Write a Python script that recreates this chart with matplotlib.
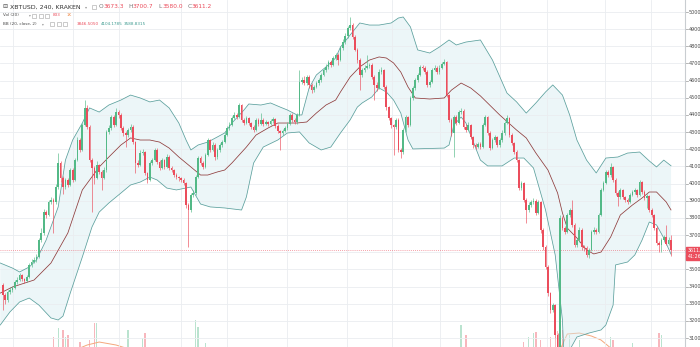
import numpy as np
import matplotlib
matplotlib.use("Agg")
import matplotlib.pyplot as plt
from matplotlib.transforms import blended_transform_factory
from matplotlib.patches import Rectangle

# XBTUSD 240 min candles (Kraken)
first_open = 3410
close = [
    3351, 3322, 3370, 3380, 3392, 3427, 3438, 3467, 3444, 3432,
    3456, 3526, 3543, 3555, 3572, 3671, 3712, 3834, 3817, 3893,
    3904, 3890, 3980, 4120, 4033, 3980, 4021, 3992, 4079, 4021,
    4137, 4254, 4196, 4342, 4441, 4330, 4137, 4091, 4033, 4108,
    4068, 4033, 4079, 4301, 4324,
    4388, 4342, 4417, 4400, 4324, 4295, 4283, 4312, 4330, 4242,
    4120, 4110, 4178, 4184, 4062, 4021, 4120, 4137, 4196, 4126,
    4091, 4137, 4097, 4155, 4091, 4079, 4050, 4038, 4030, 4021,
    4003, 3875, 3846, 3934, 3945, 4038, 4149, 4120, 4097, 4167,
    4254, 4196, 4225, 4155,
    4196, 4225, 4242, 4283, 4324, 4342, 4382, 4400, 4388, 4458,
    4371, 4353, 4382, 4353, 4330, 4312, 4371, 4347, 4371, 4347,
    4359, 4347, 4365, 4376, 4336, 4307, 4295, 4307, 4324, 4347,
    4400, 4371, 4359, 4400, 4592, 4604, 4586, 4621, 4575, 4545,
    4563, 4586, 4604, 4633,
    4662, 4680, 4709, 4691, 4732, 4749, 4720, 4790, 4825, 4860,
    4907, 4924, 4854, 4779, 4720, 4633, 4662, 4674, 4685, 4690,
    4621, 4575, 4557, 4650, 4662, 4563, 4446, 4382, 4342, 4330,
    4371, 4196, 4184, 4312, 4388, 4342, 4499, 4557, 4604, 4633,
    4680, 4674, 4650, 4575, 4592, 4662, 4674,
    4650, 4674, 4697, 4709, 4516, 4371, 4295, 4388, 4353, 4417,
    4425, 4330, 4312, 4342, 4272, 4225, 4213, 4231, 4213, 4342,
    4388, 4295, 4207, 4254, 4272, 4225, 4254, 4295, 4353, 4382,
    4283, 4237, 4184, 4137, 3974, 4003, 3904, 3846, 3875, 3893,
    3900, 3829, 3893, 3730, 3630, 3514, 3362,
    3263, 3292, 3118, 3020, 3799, 3741, 3718, 3817, 3846, 3759,
    3642, 3671, 3730, 3630, 3625, 3584, 3613, 3718, 3730, 3718,
    3817, 3963, 4003, 4068, 4050, 4097, 4021, 3945, 3922, 3963,
    3922, 3904, 3893, 3934, 3951, 3960, 3934, 4009, 3951, 3916,
    3925, 3846, 3817, 3741, 3654, 3642, 3671, 3689, 3650, 3673.3,
    3611.2,
]
high = [
    3420, 3360, 3380, 3395, 3405, 3440, 3455, 3480, 3475, 3450,
    3465, 3540, 3560, 3570, 3590, 3685, 3740, 3850, 3845, 3905,
    3920, 3915, 3995, 4178, 4130, 4045, 4035, 4030, 4090, 4090,
    4150, 4270, 4265, 4355, 4487, 4460, 4340, 4150, 4100, 4130,
    4115, 4080, 4095, 4315, 4340,
    4400, 4400, 4440, 4430, 4410, 4335, 4305, 4325, 4345, 4340,
    4250, 4135, 4195, 4200, 4190, 4070, 4130, 4150, 4210, 4205,
    4135, 4150, 4145, 4170, 4165, 4100, 4085, 4060, 4045, 4040,
    4030, 4010, 3885, 3945, 3960, 4050, 4160, 4160, 4130, 4180,
    4265, 4260, 4240, 4235,
    4205, 4235, 4255, 4300, 4335, 4360, 4395, 4420, 4410, 4470,
    4465, 4385, 4395, 4390, 4360, 4340, 4385, 4380, 4410, 4380,
    4370, 4365, 4375, 4390, 4385, 4345, 4315, 4320, 4335, 4360,
    4410, 4410, 4380, 4410, 4662, 4620, 4625, 4635, 4630, 4585,
    4575, 4600, 4615, 4645,
    4675, 4695, 4720, 4720, 4745, 4760, 4760, 4800, 4840, 4875,
    4920, 4971, 4935, 4865, 4790, 4730, 4675, 4690, 4749, 4705,
    4700, 4630, 4590, 4665, 4680, 4670, 4575, 4455, 4390, 4350,
    4385, 4380, 4205, 4325, 4400, 4395, 4510, 4570, 4615, 4645,
    4690, 4690, 4685, 4660, 4605, 4675, 4690,
    4685, 4690, 4710, 4725, 4715, 4525, 4380, 4400, 4400, 4430,
    4440, 4435, 4345, 4360, 4350, 4280, 4235, 4245, 4240, 4355,
    4400, 4395, 4305, 4265, 4285, 4280, 4265, 4310, 4365, 4400,
    4390, 4295, 4245, 4195, 4145, 4015, 4010, 3915, 3890, 3905,
    3915, 3910, 3905, 3900, 3740, 3640, 3525,
    3370, 3305, 3300, 3130, 3815, 3810, 3755, 3830, 3860, 3904,
    3770, 3685, 3745, 3740, 3645, 3635, 3625, 3730, 3745, 3740,
    3830, 3975, 4015, 4080, 4080, 4120, 4105, 4030, 3955, 3975,
    3970, 3930, 3915, 3945, 3965, 3975, 3970, 4020, 4015, 3960,
    3940, 3935, 3860, 3825, 3750, 3665, 3685, 3700, 3760, 3690,
    3700.7,
]
low = [
    3263, 3300, 3310, 3355, 3370, 3385, 3415, 3430, 3435, 3420,
    3425, 3450, 3515, 3535, 3545, 3565, 3660, 3700, 3800, 3810,
    3880, 3712, 3880, 3970, 4010, 3940, 3970, 3980, 3985, 4010,
    4015, 4130, 4185, 4190, 4335, 4320, 4125, 3834, 4000, 4025,
    4055, 3963, 4025, 4070, 4290,
    4315, 4330, 4335, 4385, 4310, 4280, 4213, 4270, 4300, 4230,
    4062, 4095, 4100, 4165, 4050, 4005, 4015, 4110, 4130, 4115,
    4080, 4085, 4085, 4090, 4080, 4065, 4040, 4025, 4015, 4010,
    3990, 3860, 3630, 3835, 3920, 3935, 4030, 4110, 4085, 4090,
    4160, 4185, 4190, 4140,
    4145, 4185, 4215, 4235, 4275, 4315, 4335, 4375, 4375, 4380,
    4360, 4340, 4345, 4340, 4320, 4300, 4305, 4335, 4340, 4335,
    4340, 4335, 4340, 4355, 4325, 4295, 4196, 4285, 4300, 4315,
    4340, 4360, 4345, 4350, 4395, 4580, 4575, 4575, 4560, 4530,
    4535, 4555, 4575, 4595,
    4625, 4650, 4670, 4680, 4685, 4720, 4690, 4715, 4780, 4815,
    4850, 4895, 4845, 4770, 4705, 4545, 4620, 4650, 4665, 4675,
    4610, 4487, 4540, 4550, 4640, 4550, 4430, 4370, 4325, 4167,
    4320, 4185, 4149, 4175, 4300, 4330, 4335, 4490, 4545, 4595,
    4625, 4660, 4640, 4565, 4565, 4585, 4655,
    4640, 4640, 4665, 4690, 4505, 4360, 4280, 4155, 4340, 4345,
    4405, 4320, 4300, 4305, 4260, 4210, 4200, 4205, 4200, 4205,
    4335, 4285, 4195, 4200, 4245, 4215, 4215, 4245, 4285, 4345,
    4270, 4225, 4170, 4125, 3960, 3965, 3890, 3770, 3835, 3865,
    3880, 3815, 3820, 3715, 3615, 3500, 3345,
    3245, 3250, 3100, 2980, 2980, 3730, 3705, 3710, 3805, 3745,
    3630, 3630, 3660, 3615, 3610, 3570, 3566, 3605, 3705, 3705,
    3710, 3810, 3955, 3995, 4040, 4040, 4010, 3935, 3870, 3910,
    3910, 3890, 3880, 3885, 3925, 3940, 3920, 3925, 3940, 3905,
    3860, 3835, 3805, 3730, 3640, 3600, 3600, 3660, 3640, 3640,
    3580.0,
]

# Bollinger Bands (20, close, 2) sampled along the chart (bar index, price)
ub_idx = [-1, 4, 7, 11, 14, 18, 23, 26, 29, 33, 36, 40, 44, 49, 53, 57, 61, 65,
          69, 73, 76, 78, 81, 85, 89, 92, 95, 100, 102, 107, 111, 115, 118, 122,
          124, 127, 130, 134, 138, 140, 144, 148, 152, 156, 161, 164, 166, 169,
          172, 177, 181, 185, 188, 192, 198, 203, 209, 213, 217, 221, 225, 228,
          232, 235, 238, 242, 246, 250, 255, 259, 264, 268, 271, 274, 277]
ub_val = [3537, 3508, 3485, 3514, 3555, 3671, 3864, 4137, 4254, 4353, 4441, 4417,
          4458, 4487, 4516, 4499, 4476, 4487, 4441, 4353, 4254, 4196, 4225, 4242,
          4272, 4295, 4353, 4429, 4464, 4458, 4470, 4446, 4429, 4400, 4400, 4557,
          4633, 4680, 4732, 4796, 4866, 4936, 4924, 4924, 4936, 4965, 4971, 4913,
          4779, 4761, 4796, 4837, 4808, 4825, 4837, 4720, 4528, 4476, 4411, 4470,
          4534, 4575, 4516, 4400, 4254, 4137, 4062, 4149, 4155, 4178, 4184, 4132,
          4097, 4137, 4104]
mb_idx = [-1, 4, 13, 20, 27, 33, 40, 44, 49, 53, 57, 61, 65, 69, 73, 78, 82, 85,
          89, 92, 95, 101, 105, 110, 114, 122, 126, 130, 134, 138, 140, 144, 148,
          152, 156, 159, 162, 165, 168, 171, 177, 183, 186, 190, 194, 198, 206,
          213, 217, 221, 226, 230, 232, 234, 238, 242, 245, 248, 252, 256, 261,
          265, 268, 271, 275, 277]
mb_val = [3362, 3397, 3438, 3537, 3712, 3963, 4097, 4155, 4225, 4266, 4254, 4254,
          4242, 4207, 4155, 4097, 4050, 4050, 4068, 4079, 4120, 4213, 4283, 4324,
          4353, 4353, 4359, 4411, 4458, 4487, 4534, 4621, 4680, 4720, 4738, 4732,
          4703, 4650, 4563, 4499, 4493, 4499, 4545, 4586, 4557, 4511, 4400, 4312,
          4266, 4178, 4079, 3945, 3829, 3741, 3683, 3613, 3590, 3601, 3689, 3817,
          3875, 3916, 3951, 3951, 3893, 3846.5]
lb_idx = [-1, 3, 7, 11, 15, 20, 23, 25, 28, 33, 37, 40, 44, 49, 53, 57, 61, 64,
          68, 72, 78, 82, 86, 92, 99, 101, 104, 108, 114, 118, 123, 127, 132, 136,
          140, 144, 147, 149, 153, 156, 159, 162, 165, 168, 170, 183, 185, 187,
          190, 192, 198, 201, 207, 212, 216, 220, 225, 229, 232, 233, 235, 238,
          243, 248, 250, 253, 254, 259, 262, 265, 268, 271, 274, 277]
lb_val = [3176, 3252, 3310, 3333, 3292, 3217, 3205, 3228, 3362, 3572, 3747, 3834,
          3887, 3945, 3992, 4009, 4038, 4021, 3974, 3963, 3980, 3881, 3864, 3858,
          3846, 3922, 4120, 4213, 4254, 4295, 4301, 4237, 4196, 4213, 4295, 4371,
          4446, 4470, 4505, 4557, 4534, 4487, 4411, 4254, 4202, 4207, 4225, 4341,
          4388, 4353, 4137, 4103, 4103, 4149, 4149, 4091, 3846, 3584, 3205, 2855,
          3030, 3106, 3129, 3147, 3176, 3292, 3526, 3543, 3584, 3671, 3776, 3759,
          3683, 3588.8]

# volume bars that reach into the visible chart (bar index, volume)
vol_idx = [21, 23, 25, 26, 27, 32, 36, 38, 39, 52, 58, 59, 80, 81, 84, 190, 192,
           216, 218, 220, 221, 223, 227, 229, 230, 231, 232, 235, 239, 252, 253,
           261, 272, 273]
vol_val = [2100, 2400, 2333, 2100, 2167, 1933, 2000, 2567, 2567, 2333, 2067, 2233,
           2667, 2433, 1900, 2500, 2167, 1933, 2100, 2233, 2267, 2000, 2100, 2067,
           2300, 2600, 2333, 2167, 2000, 2100, 2000, 1900, 2233, 2167]
volma_a_idx = [32, 35, 40, 47, 51]
volma_a = [1733, 1833, 1933, 1833, 1733]
volma_b_idx = [231, 234, 239, 244, 248, 252]
volma_b = [1667, 2200, 2233, 2133, 2000, 1733]

price_ticks = list(range(3100, 5001, 100))
vgrid_bars = [4.3, 29.1, 48.2, 73.9, 93.0, 117.8, 142.7, 161.3, 181.2, 206.1,
              225.6, 249.6, 268.7]

UP = "#53b987"
DOWN = "#eb4d5c"
BAND = "#5a9f9c"
BASIS = "#8e3b3b"
TXT = "#4a4a4a"

W, H = 700, 347
fig = plt.figure(figsize=(W / 100, H / 100), dpi=100)
fig.patch.set_facecolor("white")
ax = fig.add_axes([0, 0, 685 / W, 1])
ax.set_xlim(-1.12, 282.8)
ax.set_ylim(3047.7, 5070)

# volume underneath, on its own scale
axv = ax.twinx()
axv.set_ylim(1767, 13333)
axv.axis("off")
ax.set_zorder(2)
ax.patch.set_visible(False)
axv.set_zorder(1)

n = len(close)
bars = np.arange(n)
c = np.array(close, dtype=float)
o = np.r_[first_open, c[:-1]]
up = c >= o
colors = np.where(up, UP, DOWN)

vcol = [UP if up[i] else DOWN for i in vol_idx]
axv.bar(vol_idx, vol_val, width=0.55, color=vcol, alpha=0.4, linewidth=0)
axv.plot(volma_a_idx, volma_a, color="#f4a77c", lw=0.7)
axv.plot(volma_b_idx, volma_b, color="#f4a77c", lw=0.7)

# grid
ax.set_yticks(price_ticks)
ax.set_xticks(vgrid_bars)
ax.grid(True, color="#eaedf0", lw=0.6)
ax.tick_params(length=0, labelleft=False, labelbottom=False)
for s in ["top", "left", "bottom"]:
    ax.spines[s].set_visible(False)
ax.spines["right"].set_color("#c9cdd1")
ax.spines["right"].set_linewidth(0.8)

# bollinger bands
ax.fill(np.r_[ub_idx, lb_idx[::-1]], np.r_[ub_val, lb_val[::-1]],
        color="#d6ecf1", alpha=0.45, lw=0, zorder=1)
ax.plot(ub_idx, ub_val, color=BAND, lw=0.55, zorder=2)
ax.plot(lb_idx, lb_val, color=BAND, lw=0.55, zorder=2)
ax.plot(mb_idx, mb_val, color=BASIS, lw=0.55, zorder=2)

# candles
ax.vlines(bars, low, high, colors=colors, lw=0.45, zorder=3)
body = np.maximum(np.abs(c - o), 4)
ax.bar(bars, body, bottom=np.minimum(o, c), width=0.7, color=colors,
       linewidth=0, zorder=4)

# last price line
last = close[-1]
ax.axhline(last, color=DOWN, lw=0.6, ls=(0, (1, 1.5)), alpha=0.7, zorder=2)

# price scale on the right (cut by the image edge, as in the screenshot)
tr = blended_transform_factory(ax.transAxes, ax.transData)
for p in price_ticks:
    ax.plot([1.0, 1.004], [p, p], color="#9a9a9a", lw=0.5, transform=tr,
            clip_on=False)
    if abs(p - last) < 30:
        continue  # hidden behind the last-price tag
    ax.text(1.0058, p, f"{p:.1f}", transform=tr, fontsize=3.5, color=TXT,
            va="center", ha="left", clip_on=False)

fig.patches.append(Rectangle((686 / W, 1 - 253 / H), 14 / W, 6 / H,
                             transform=fig.transFigure, color=DOWN, zorder=10))
fig.patches.append(Rectangle((686 / W, 1 - 259.5 / H), 14 / W, 6 / H,
                             transform=fig.transFigure, color=DOWN, zorder=10))
fig.text(687.5 / W, 1 - 250 / H, f"{last:.1f}", fontsize=3.4, color="white",
         va="center", ha="left", zorder=11)
fig.text(687.5 / W, 1 - 256.5 / H, "41:26", fontsize=3.4, color="white",
         va="center", ha="left", zorder=11)


# legend / header texts
def t(x, y, s, size, color=TXT):
    fig.text(x / W, 1 - y / H, s, fontsize=size, color=color,
             va="center", ha="left")


def icon(x, y, size=4.5):
    fig.patches.append(Rectangle((x / W, 1 - (y + size / 2) / H), size / W,
                                 size / H, transform=fig.transFigure,
                                 fill=False, ec="#b5b5b5", lw=0.5))


t(2, 7, "⊟", 4.3)
t(10.5, 7, "XBTUSD, 240, KRAKEN", 4.5, "#333333")
t(85, 7, "▾", 3, "#999999")
icon(91.5, 7)
for x, lab, val in [(99, "O", "3673.3"), (128.5, "H", "3700.7"),
                    (158, "L", "3580.0"), (187.5, "C", "3611.2")]:
    t(x, 7, lab, 4.2, "#777777")
    t(x + 4.3, 7, val, 4.2, DOWN)

t(3, 15.5, "Vol (20)", 3.0)
t(28.5, 15.5, "▾", 2.6, "#999999")
for x in (32, 38.5, 45):
    icon(x, 15.5, 4)
t(53, 15.5, "833", 3.0, DOWN)
t(67, 15.5, "1K", 3.0, "#f08c4a")

t(3, 24, "BB (20, close, 2)", 3.0)
t(42, 24, "▾", 2.6, "#999999")
for x in (50, 56.5, 63):
    icon(x, 24, 4)
t(77, 24, "3846.5050", 3.0, DOWN)
t(100.5, 24, "4104.1785", 3.0, "#3c9a8f")
t(124, 24, "3588.8315", 3.0, "#3c9a8f")

fig.savefig("out.png", dpi=100, facecolor="white")
